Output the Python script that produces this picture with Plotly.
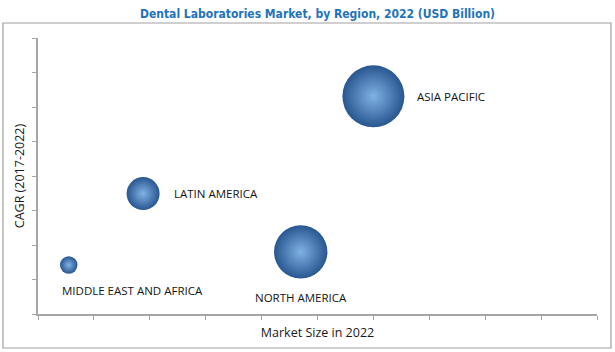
import plotly.graph_objects as go

regions = ["ASIA PACIFIC", "NORTH AMERICA", "LATIN AMERICA", "MIDDLE EAST AND AFRICA"]
market_size = [6.0, 4.7, 1.88, 0.55]        # x position (market size in 2022)
cagr = [6.31, 1.8, 3.49, 1.42]               # y position (CAGR 2017-2022)
bubble_value = [12.0, 8.9, 3.4, 0.95]        # bubble area value

W, H = 615, 352
ml, mr, mt, mb = 38, 18, 38, 38
pw, ph = W - ml - mr, H - mt - mb

fig = go.Figure()
fig.add_trace(go.Scatter(
    x=market_size, y=cagr, mode="markers",
    marker=dict(
        size=bubble_value, sizemode="area", sizeref=2 * 12.0 / 62 ** 2,
        color="#285690",
        gradient=dict(type="radial", color="#80b2e4"),
        line=dict(width=0),
        opacity=1,
    ),
    hoverinfo="text", text=regions, showlegend=False,
))

label_style = dict(font=dict(family="Open Sans", size=11.5, color="#141414"), showarrow=False)
# label placement offsets (pixels) per region
offsets = {
    "ASIA PACIFIC": dict(xanchor="left", yanchor="middle", xshift=42, yshift=0),
    "NORTH AMERICA": dict(xanchor="center", yanchor="middle", xshift=0, yshift=-46),
    "LATIN AMERICA": dict(xanchor="left", yanchor="middle", xshift=29, yshift=0),
    "MIDDLE EAST AND AFRICA": dict(xanchor="left", yanchor="middle", xshift=-9, yshift=-25),
}
for r, xv, yv in zip(regions, market_size, cagr):
    fig.add_annotation(x=xv, y=yv, xref="x", yref="y", text=r, **offsets[r], **label_style)

axis_common = dict(showline=True, linecolor="#a6a6a6", linewidth=1.5, ticks="outside",
                   ticklen=4, tickcolor="#a6a6a6", tickwidth=1, showticklabels=False,
                   showgrid=False, zeroline=False, fixedrange=True)

fig.update_layout(
    width=W, height=H,
    margin=dict(l=ml, r=mr, t=mt, b=mb),
    paper_bgcolor="white", plot_bgcolor="white",
    title=dict(text="<b>Dental Laboratories Market, by Region, 2022 (USD Billion)</b>",
               x=0.5, xref="paper", xanchor="center", y=1 - 14 / H, yanchor="middle",
               font=dict(family="DejaVu Sans Condensed, Roboto, sans-serif", size=12, color="#1f73bb")),
    xaxis=dict(range=[0, 10], dtick=1, **axis_common,
               title=dict(text="Market Size in 2022", standoff=9,
                          font=dict(family="Open Sans", size=12.5, color="#1a1a1a"))),
    yaxis=dict(range=[0, 8], dtick=1, **axis_common,
               title=dict(text="CAGR (2017-2022)", standoff=5,
                          font=dict(family="Open Sans", size=12.5, color="#1a1a1a"))),
)

# outer frame
fig.add_shape(type="rect", xref="paper", yref="paper",
              x0=(3 - ml) / pw, x1=(611 - ml) / pw,
              y0=(H - mb - 348) / ph, y1=(H - mb - 23) / ph,
              line=dict(color="#a0a0a0", width=1.2), fillcolor="rgba(0,0,0,0)", layer="below")

fig.write_html("out.html")
